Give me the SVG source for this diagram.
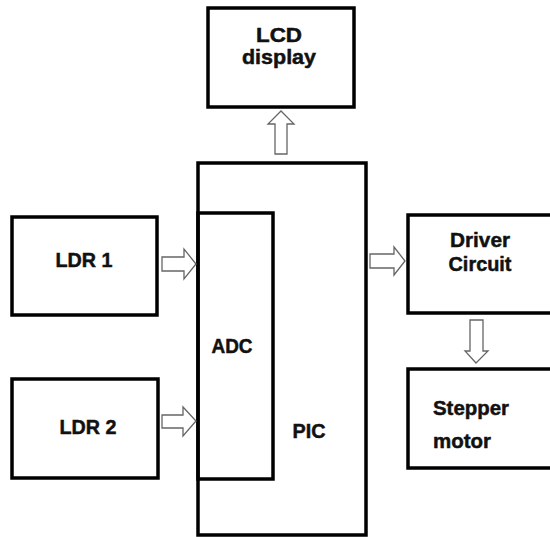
<svg xmlns="http://www.w3.org/2000/svg" width="550" height="537" viewBox="0 0 550 537">
<style>
.box{fill:#fff;stroke:#000;stroke-width:3.5}
.inner{fill:none;stroke:#000;stroke-width:3.5}
.lbl{font-family:"Liberation Sans",Arial,sans-serif;font-weight:bold;font-size:21px;fill:#111;stroke:#111;stroke-width:0.5}
.arr{fill:#fff;stroke:#666;stroke-width:1.3;stroke-linejoin:miter}
</style>
<rect width="550" height="537" fill="#fff"/>
<g id="lcd">
<rect class="box" x="208" y="8" width="146" height="99"/>
<text class="lbl" x="279" y="42" text-anchor="middle" textLength="46" lengthAdjust="spacingAndGlyphs">LCD</text>
<text class="lbl" x="279" y="64" text-anchor="middle" textLength="74" lengthAdjust="spacingAndGlyphs">display</text>
</g>
<g id="pic">
<rect class="box" x="198" y="163" width="168" height="372"/>
<text class="lbl" x="309" y="438" text-anchor="middle" textLength="33" lengthAdjust="spacingAndGlyphs">PIC</text>
</g>
<g id="adc">
<rect class="inner" x="198" y="213" width="75" height="266"/>
<text class="lbl" x="232" y="353" text-anchor="middle" textLength="41" lengthAdjust="spacingAndGlyphs">ADC</text>
</g>
<g id="ldr1">
<rect class="box" x="12" y="217" width="145" height="98"/>
<text class="lbl" x="84" y="267" text-anchor="middle" textLength="57" lengthAdjust="spacingAndGlyphs">LDR 1</text>
</g>
<g id="ldr2">
<rect class="box" x="12" y="379" width="146" height="99"/>
<text class="lbl" x="88" y="434" text-anchor="middle" textLength="57" lengthAdjust="spacingAndGlyphs">LDR 2</text>
</g>
<g id="driver">
<rect class="box" x="408" y="215" width="150" height="98"/>
<text class="lbl" x="480" y="247" text-anchor="middle" textLength="60" lengthAdjust="spacingAndGlyphs">Driver</text>
<text class="lbl" x="480" y="271" text-anchor="middle" textLength="63" lengthAdjust="spacingAndGlyphs">Circuit</text>
</g>
<g id="stepper">
<rect class="box" x="408" y="369" width="150" height="99"/>
<text class="lbl" x="433" y="415" textLength="76" lengthAdjust="spacingAndGlyphs">Stepper</text>
<text class="lbl" x="433" y="448" textLength="58" lengthAdjust="spacingAndGlyphs">motor</text>
</g>
<g id="connectors">
<polygon class="arr" points="275,154 275,124 268,124 281,111 294,124 287,124 287,154"/>
<polygon class="arr" points="162,257 184,257 184,249 196,264 184,279 184,271 162,271"/>
<polygon class="arr" points="162,415 183,415 183,407 196,421 183,436 183,428 162,428"/>
<polygon class="arr" points="370,254 394,254 394,247 405,261 394,275 394,268 370,268"/>
<polygon class="arr" points="470,320 470,351 465,351 476,363 488,351 483,351 483,320"/>
</g>
</svg>
